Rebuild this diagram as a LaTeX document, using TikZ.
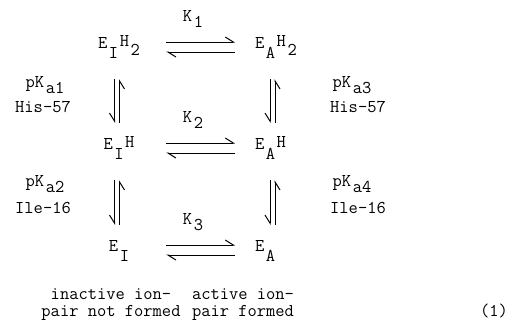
\documentclass[tikz,border=0pt]{standalone}
\usetikzlibrary{arrows.meta}

% typewriter half-line shifts
\newcommand{\lowr}[2][9pt]{\kern1.5pt\raisebox{-#1}{#2}}
\newcommand{\highr}[2][2pt]{\kern1.5pt\raisebox{#1}{#2}}

\begin{document}
\begin{tikzpicture}[x=1pt, y=-1pt,
    font=\ttfamily\fontsize{18}{17}\selectfont,
    species/.style={inner sep=0pt, text height=12pt, text depth=10pt, minimum width=48pt, anchor=base},
    speciesR/.style={inner sep=0pt, text height=12pt, text depth=10pt, anchor=base west},
    label/.style={inner sep=0pt, anchor=base},
    harpR/.style={-{Straight Barb[left, length=8pt, width=10pt]}, line width=1pt, shorten <=23pt, shorten >=20pt},
    harpL/.style={-{Straight Barb[left, length=8pt, width=10pt]}, line width=1pt, shorten <=20pt, shorten >=23pt},
    harpD/.style={-{Straight Barb[right, length=8pt, width=10pt]}, line width=1pt, shorten <=21pt, shorten >=14pt},
    harpU/.style={-{Straight Barb[right, length=8pt, width=10pt]}, line width=1pt, shorten <=14pt, shorten >=21pt}]
    \useasboundingbox (0,0) rectangle (516,327);

    % enzyme forms
    \node[species] (EIHtwo) at (119,48) {E\lowr[10pt]{I}\highr{H}\lowr[7pt]{2}};
    \node[speciesR] (EAHtwo) at (255,48) {E\lowr[10pt]{A}\highr{H}\lowr[7pt]{2}};
    \node[species] (EIH) at (119,149) {E\lowr[10pt]{I}\highr{H}};
    \node[speciesR] (EAH) at (255,149) {E\lowr[10pt]{A}\highr{H}};
    \node[species] (EI) at (119,251) {E\lowr[10pt]{I}};
    \node[speciesR] (EA) at (255,251) {E\lowr[10pt]{A}};

    % equilibrium constants
    \node[label] (Kone) at (193,21) {K\lowr[6pt]{1}};
    \node[label] (Ktwo) at (193,122) {K\lowr[6pt]{2}};
    \node[label] (Kthree) at (193,224) {K\lowr[6pt]{3}};

    % horizontal harpoons
    \draw[harpR] ([yshift=6pt]EIHtwo.base east) -- ([yshift=6pt]EAHtwo.base west);
    \draw[harpL] ([yshift=-4pt]EAHtwo.base west) -- ([yshift=-4pt]EIHtwo.base east);
    \draw[harpR] ([yshift=6pt]EIH.base east) -- ([yshift=6pt]EAH.base west);
    \draw[harpL] ([yshift=-4pt]EAH.base west) -- ([yshift=-4pt]EIH.base east);
    \draw[harpR] ([yshift=6pt]EI.base east) -- ([yshift=6pt]EA.base west);
    \draw[harpL] ([yshift=-4pt]EA.base west) -- ([yshift=-4pt]EI.base east);

    % vertical harpoons
    \draw[harpD] ([xshift=-4.5pt]EIHtwo.south) -- ([xshift=-4.5pt]EIH.north);
    \draw[harpU] ([xshift=0.5pt]EIH.north) -- ([xshift=0.5pt]EIHtwo.south);
    \draw[harpD] ([xshift=-4.5pt]EIH.south) -- ([xshift=-4.5pt]EI.north);
    \draw[harpU] ([xshift=0.5pt]EI.north) -- ([xshift=0.5pt]EIH.south);
    \draw[harpD] ([xshift=15pt]EAHtwo.south west) -- ([xshift=15pt]EAH.north west);
    \draw[harpU] ([xshift=20pt]EAH.north west) -- ([xshift=20pt]EAHtwo.south west);
    \draw[harpD] ([xshift=15pt]EAH.south west) -- ([xshift=15pt]EA.north west);
    \draw[harpU] ([xshift=20pt]EA.north west) -- ([xshift=20pt]EAH.south west);

    % ionisation labels
    \node[label] (pKaone) at (45,87) {pK\lowr[6pt]{a1}};
    \node[label] (hisL) at (43,112) {His-57};
    \node[label] (pKathree) at (352,87) {pK\lowr[6pt]{a3}};
    \node[label] (hisR) at (358,112) {His-57};
    \node[label] (pKatwo) at (45,186) {pK\lowr[6pt]{a2}};
    \node[label] (ileL) at (43,213) {Ile-16};
    \node[label] (pKafour) at (352,186) {pK\lowr[6pt]{a4}};
    \node[label] (ileR) at (358,213) {Ile-16};

    % captions
    \node[label, align=center] (inactive) at (111,316) {inactive ion-\\pair not formed};
    \node[label, align=center] (active) at (243,316) {active ion-\\pair formed};
    \node[label] (eqno) at (494,316) {(1)};
\end{tikzpicture}
\end{document}
